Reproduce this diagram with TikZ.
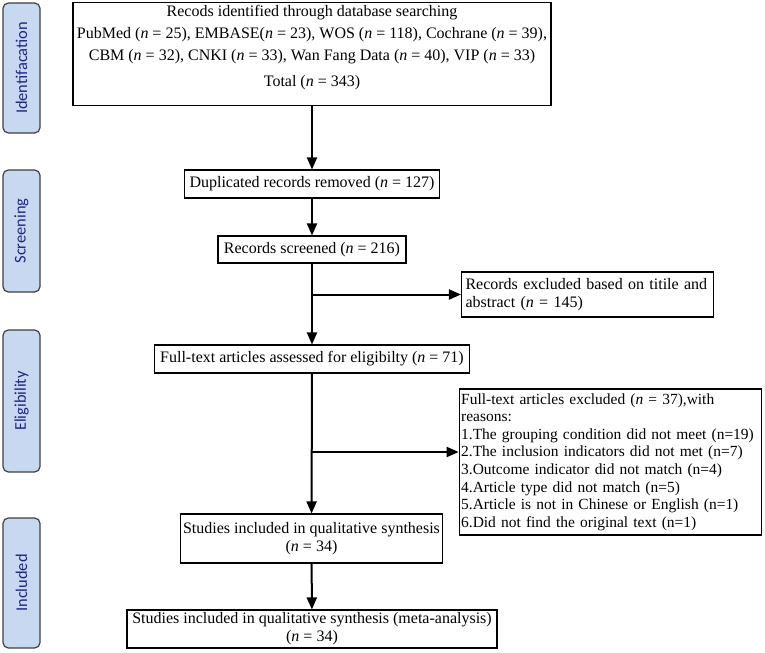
\documentclass[tikz,border=0pt]{standalone}
\usepackage{fontspec}
\setmainfont{Liberation Serif}
\newfontfamily\tabfont{Carlito}
\usetikzlibrary{arrows.meta,positioning}
\definecolor{tabfill}{RGB}{198,217,241}
\definecolor{tabtext}{RGB}{28,38,130}
\definecolor{tabline}{RGB}{64,64,64}

\begin{document}
\begin{tikzpicture}[x=0.75pt,y=-0.75pt,
    every node/.style={font=\fontsize{12}{13.5}\selectfont},
    box/.style={draw,line width=0.8pt,inner sep=2pt,align=center},
    lbox/.style={draw,line width=0.8pt,inner sep=3pt,align=left},
    phase/.style={draw=tabline,fill=tabfill,line width=0.9pt,rounded corners=4pt,
        minimum height=27.75pt,text=tabtext,rotate=90,
        font=\tabfont\fontsize{12.3}{14}\selectfont},
    flow/.style={line width=1.5pt,-{Triangle[length=9pt,width=7.5pt]}}]
                \useasboundingbox (0,0) rectangle (765,653);
                % phases
                \node[phase,minimum width=97.5pt] (pid) at (21.5,68) {Identifacation};
                \node[phase,minimum width=91.5pt] (psc) at (21.5,231) {Screening};
                \node[phase,minimum width=106.5pt] (pel) at (21.5,401) {Eligibility};
                \node[phase,minimum width=97.5pt] (pin) at (21.5,583) {Included};
                % boxes
                \node[box,minimum width=358.5pt,minimum height=76.5pt,font=\fontsize{12}{16.5}\selectfont] (ident) at (312,54)
                    {Recods identified through database searching\\
                     PubMed (\textit{n} = 25), EMBASE(\textit{n} = 23), WOS (\textit{n} = 118), Cochrane (\textit{n} = 39),\\
                     CBM (\textit{n} = 32), CNKI (\textit{n} = 33), Wan Fang Data (\textit{n} = 40), VIP (\textit{n} = 33)\\[3pt]
                     Total (\textit{n} = 343)\\[-4pt]};
                \node[box,minimum width=191.25pt,minimum height=21pt] (dup) at (312,184) {Duplicated records removed (\textit{n} = 127)};
                \node[box,minimum width=141pt,minimum height=20.25pt] (scr) at (312,249.5) {Records screened (\textit{n} = 216)};
                \node[lbox,text width=183pt,minimum height=33.75pt] (exc1) at (587.5,294.5)
                    {Records excluded based on titile and\\abstract (\textit{n} = 145)};
                \node[box,minimum height=21pt,inner xsep=4pt] (full) at (312,359) {Full-text articles assessed for eligibilty (\textit{n} = 71)};
                \node[lbox,text width=224pt,inner xsep=1.5pt,minimum height=109.5pt,font=\fontsize{11.6}{13.2}\selectfont] (exc2) at (610.5,462)
                    {Full-text articles excluded (\textit{n} = 37),with\\
                     reasons:\\
                     1.The grouping condition did not meet (n=19)\\
                     2.The inclusion indicators did not met (n=7)\\
                     3.Outcome indicator did not match (n=4)\\
                     4.Article type did not match (n=5)\\
                     5.Article is not in Chinese or English (n=1)\\
                     6.Did not find the original text (n=1)};
                \node[box,minimum width=195.75pt,minimum height=36.75pt] (stud1) at (311.5,538.5)
                    {Studies included in qualitative synthesis\\(\textit{n} = 34)};
                \node[box,minimum width=277.5pt,minimum height=28.5pt] (stud2) at (312,629)
                    {Studies included in qualitative synthesis (meta-analysis)\\(\textit{n} = 34)};
                % arrows
                \draw[flow] (ident) -- (dup);
                \draw[flow] (dup) -- (scr);
                \draw[flow] (scr) -- (full);
                \draw[flow] (scr.south |- exc1) -- (exc1);
                \draw[flow] (full) -- (stud1);
                \coordinate (fork) at (312,452);
                \draw[flow] (fork) -- (fork -| exc2.west);
                \draw[flow] (stud1) -- (stud2);
            \end{tikzpicture}
\end{document}
